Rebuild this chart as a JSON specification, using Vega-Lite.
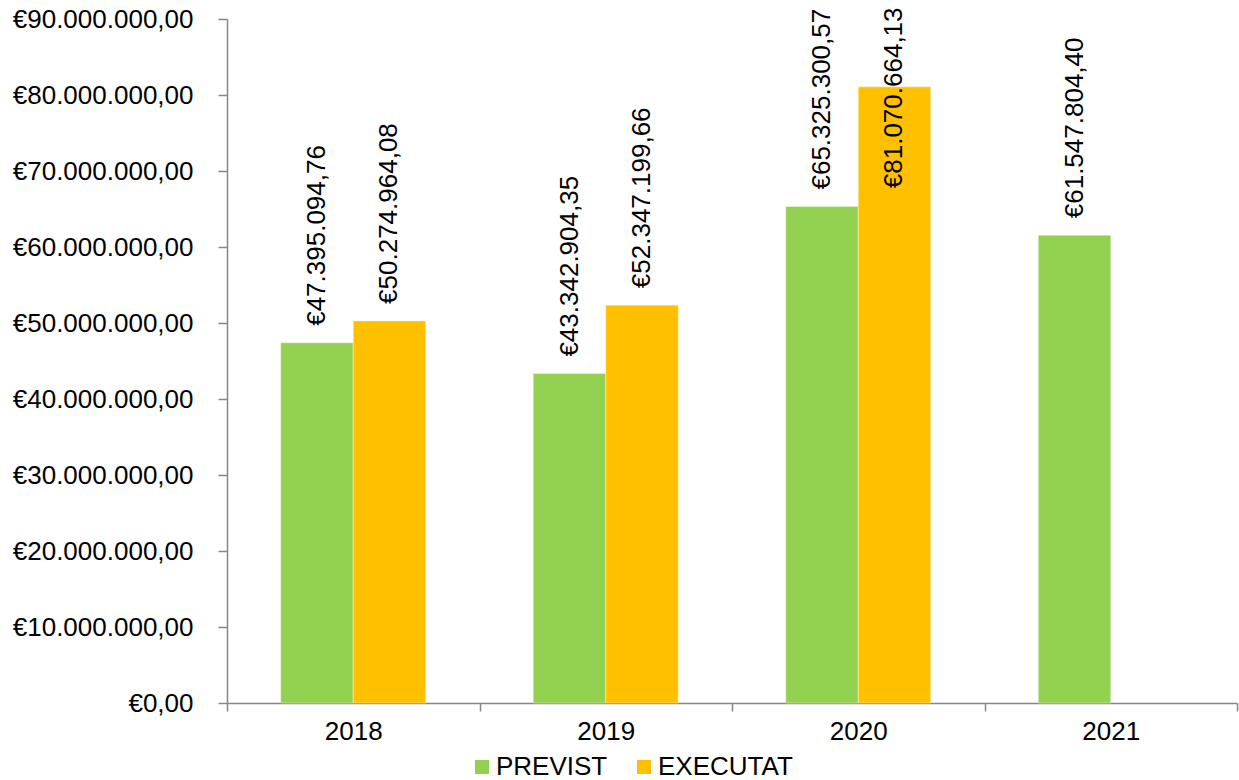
{
  "$schema": "https://vega.github.io/schema/vega-lite/v6.json",
  "autosize": {"type": "none"},
  "padding": {"left": 227, "top": 19, "right": 2, "bottom": 77},
  "width": 1010,
  "height": 684,
  "background": "white",
  "config": {
    "font": "Liberation Sans",
    "view": {"stroke": null},
    "locale": {"number": {"decimal": ",", "thousands": ".", "grouping": [3], "currency": ["€", ""]}}
  },
  "data": {
    "values": [
      {"year": "2018", "serie": "PREVIST", "value": 47395094.76},
      {"year": "2018", "serie": "EXECUTAT", "value": 50274964.08},
      {"year": "2019", "serie": "PREVIST", "value": 43342904.35},
      {"year": "2019", "serie": "EXECUTAT", "value": 52347199.66},
      {"year": "2020", "serie": "PREVIST", "value": 65325300.57},
      {"year": "2020", "serie": "EXECUTAT", "value": 81070664.13},
      {"year": "2021", "serie": "PREVIST", "value": 61547804.40}
    ]
  },
  "encoding": {
    "x": {
      "field": "year", "type": "nominal",
      "scale": {"paddingInner": 0, "paddingOuter": 0},
      "axis": {
        "title": null, "labelAngle": 0, "labelFontSize": 26, "labelColor": "black",
        "tickBand": "extent", "tickSize": 8, "tickColor": "#868686", "tickWidth": 1.5,
        "domainColor": "#868686", "domainWidth": 1.5, "labelPadding": 7
      }
    },
    "xOffset": {
      "field": "serie", "type": "nominal",
      "scale": {"domain": ["PREVIST", "EXECUTAT"], "paddingInner": 0, "paddingOuter": 0.7414}
    }
  },
  "layer": [
    {
      "mark": {"type": "bar", "stroke": "#f4f4e0", "strokeWidth": 0.5},
      "encoding": {
        "y": {
          "field": "value", "type": "quantitative",
          "scale": {"domain": [0, 90000000], "nice": false},
          "axis": {
            "title": null, "grid": false, "format": "$,.2f",
            "values": [0, 10000000, 20000000, 30000000, 40000000, 50000000, 60000000, 70000000, 80000000, 90000000],
            "labelFontSize": 26, "labelColor": "black", "labelPadding": 25, "labelLimit": 0,
            "tickSize": 9, "tickColor": "#868686", "tickWidth": 1.5,
            "domainColor": "#868686", "domainWidth": 1.5
          }
        },
        "color": {
          "field": "serie", "type": "nominal",
          "scale": {"domain": ["PREVIST", "EXECUTAT"], "range": ["#92D050", "#FFC000"]},
          "legend": {
            "title": null, "orient": "none", "direction": "horizontal",
            "legendX": 242, "legendY": 735,
            "symbolType": "square", "symbolSize": 196, "symbolStrokeWidth": 0,
            "labelFontSize": 26, "labelColor": "black", "labelOffset": 1,
            "columnPadding": 23, "labelLimit": 0
          }
        }
      }
    },
    {
      "transform": [{"calculate": "min(datum.value, 65500000)", "as": "labelPos"}],
      "mark": {"type": "text", "angle": 270, "align": "left", "baseline": "middle", "dx": 17, "fontSize": 26, "color": "black"},
      "encoding": {
        "y": {"field": "labelPos", "type": "quantitative", "scale": {"domain": [0, 90000000], "nice": false}},
        "text": {"field": "value", "type": "quantitative", "format": "$,.2f"}
      }
    }
  ]
}
